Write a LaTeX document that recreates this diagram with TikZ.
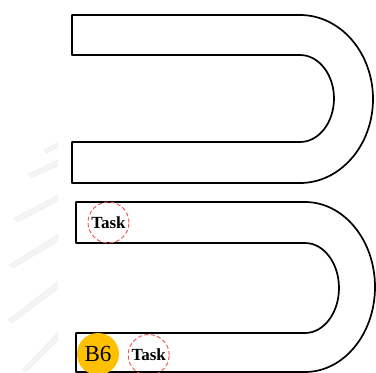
\documentclass[tikz,border=0pt]{standalone}
\usepackage{fontspec}
\setmainfont{Liberation Serif}
\definecolor{badgegold}{RGB}{255,192,0}
\definecolor{taskred}{RGB}{240,80,80}
\begin{document}
\begin{tikzpicture}[x=1pt,y=1pt,
  track/.style={draw=black,line width=1.7pt,line join=round},
  tasknode/.style={circle,draw=taskred,dash pattern=on 4pt off 2.5pt,line width=0.9pt,
    minimum size=41pt,inner sep=0pt,font=\fontsize{17}{17}\selectfont\bfseries},
  badge/.style={circle,fill=badgegold,minimum size=42pt,inner sep=0pt,
    font=\fontsize{23}{23}\selectfont},
  pencil/.style={fill=gray!9,draw=gray!14,line width=0.4pt}]
\useasboundingbox (0,0) rectangle (376,-373);

% faint sketched pencils on the left margin
\begin{scope}
  \clip (0,-120) rectangle (58,-373);
  \filldraw[pencil] (44,-150) -- (62,-140) -- (64,-144) -- (47,-153) -- cycle;
  \filldraw[pencil] (28,-174) -- (62,-158) -- (64,-163) -- (31,-178) -- cycle;
  \filldraw[pencil] (14,-218) -- (62,-193) -- (64,-198) -- (18,-222) -- cycle;
  \filldraw[pencil] (9,-265) -- (62,-232) -- (64,-238) -- (13,-268) -- cycle;
  \filldraw[pencil] (8,-320) -- (62,-278) -- (64,-284) -- (12,-323) -- cycle;
  \filldraw[pencil] (22,-370) -- (62,-328) -- (64,-334) -- (26,-372) -- cycle;
\end{scope}

% upper U-shaped track
\path[track] (72,-15) coordinate (u1) -- (300,-15)
  arc[start angle=90,end angle=-90,x radius=73,y radius=84]
  -- (72,-183) -- (72,-142) -- (300,-142)
  arc[start angle=-90,end angle=90,x radius=34,y radius=43.5]
  -- (72,-55) -- cycle;

% lower U-shaped track
\path[track] (76,-202) coordinate (u2) -- (305,-202)
  arc[start angle=90,end angle=-90,x radius=70,y radius=85]
  -- (76,-372) -- (76,-333) -- (305,-333)
  arc[start angle=-90,end angle=90,x radius=34,y radius=45]
  -- (76,-243) -- cycle;

% labels on the track
\node[tasknode] (t1) at (108.5,-222.5) {Task};
\node[badge] (b6) at (98,-354) {B6};
\node[tasknode] (t2) at (148.7,-355) {Task};
\end{tikzpicture}
\end{document}
